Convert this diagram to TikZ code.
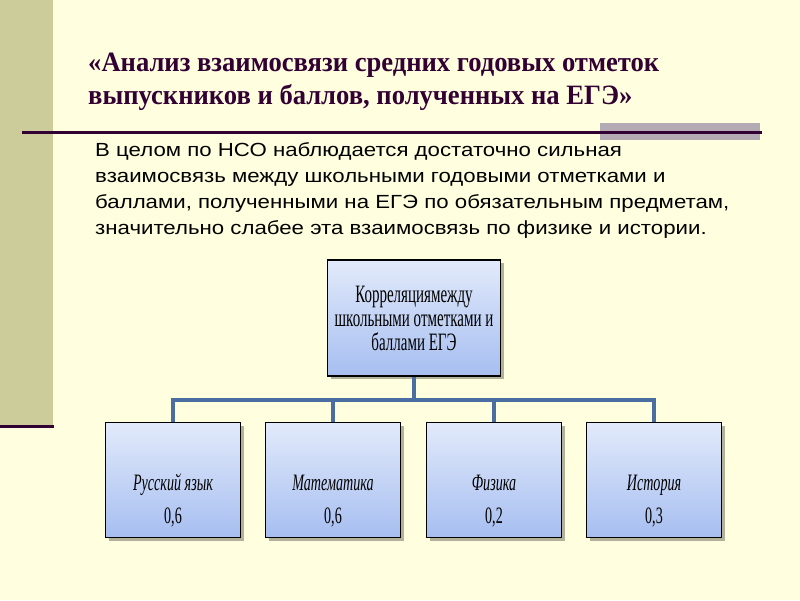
\documentclass[tikz,border=0pt]{standalone}
\usepackage{fontspec}
\setmainfont{Liberation Sans}
\newfontfamily\bodyfont[FakeStretch=1.17]{Liberation Sans}
\newfontfamily\titlefont[FakeStretch=0.95]{Liberation Serif}
\newfontfamily\boxfont[FakeStretch=0.6]{Liberation Serif}
\usepackage{xcolor}
\usetikzlibrary{shadows}

\definecolor{slidebg}{HTML}{FFFFDF}
\definecolor{sideband}{HTML}{CCCC9A}
\definecolor{darkrule}{HTML}{330033}
\definecolor{greybar}{HTML}{B3AAB3}
\definecolor{boxtop}{HTML}{E2EAFB}
\definecolor{boxbot}{HTML}{A6BEF0}
\definecolor{linkblue}{HTML}{4A6EA2}

\begin{document}
\begin{tikzpicture}[x=1pt, y=-1pt,
    block/.style = {draw=black, line width=1.4pt,
        top color=boxtop, bottom color=boxbot,
        drop shadow={shadow xshift=3pt, shadow yshift=-3pt, fill=black, opacity=0.3},
        align=center, inner sep=0pt},
    subject/.style = {block, minimum width=135pt, minimum height=115pt,
        font=\boxfont\fontsize{23.5}{33}\selectfont},
    link/.style = {draw=linkblue, line width=3.5pt}]

% Slide background
\fill[slidebg] (0,0) rectangle (800,600);
\useasboundingbox (0,0) rectangle (800,600);

% Left band
\fill[sideband] (0,0) rectangle (53,425);
\draw[darkrule, line width=3pt] (0,426.5) -- (54,426.5);

% Title rule
\fill[greybar] (600,123) rectangle (760,140);
\draw[darkrule, line width=3pt] (22,132) -- (762,132);

% Title
\node[anchor=base west, text=darkrule, font=\titlefont\bfseries\fontsize{28}{33}\selectfont,
    align=left, inner sep=0pt] (title) at (88,104)
    {«Анализ взаимосвязи средних годовых отметок\\
     выпускников и баллов, полученных на ЕГЭ»};

% Summary text
\node[anchor=north west, font=\bodyfont\fontsize{19}{26}\selectfont, align=left, inner sep=0pt]
    (summary) at (95,142)
    {В целом по НСО наблюдается достаточно сильная\\
     взаимосвязь между школьными годовыми отметками и\\
     баллами, полученными на ЕГЭ по обязательным предметам,\\
     значительно слабее эта взаимосвязь по физике и истории.};

% Root box
\node[block, minimum width=173pt, minimum height=116pt,
    font=\boxfont\fontsize{25}{24}\selectfont] (corr) at (414,318)
    {Корреляциямежду\\ школьными отметками и\\ баллами ЕГЭ};

% Subject boxes
\node[subject] (rus) at (173,480) {\rule{0pt}{57pt}\itshape Русский язык\\ 0,6};
\node[subject] (math) at (333,480) {\rule{0pt}{57pt}\itshape Математика\\ 0,6};
\node[subject] (phys) at (494,480) {\rule{0pt}{57pt}\itshape Физика\\ 0,2};
\node[subject] (hist) at (654,480) {\rule{0pt}{57pt}\itshape История\\ 0,3};

% Connectors
\coordinate (bus) at (414,400);
\draw[link] (corr.south) -- (bus);
\draw[link] (rus.north) |- (bus) -| (hist.north);
\draw[link] (math.north) -- (math.north |- bus);
\draw[link] (phys.north) -- (phys.north |- bus);
\end{tikzpicture}
\end{document}
